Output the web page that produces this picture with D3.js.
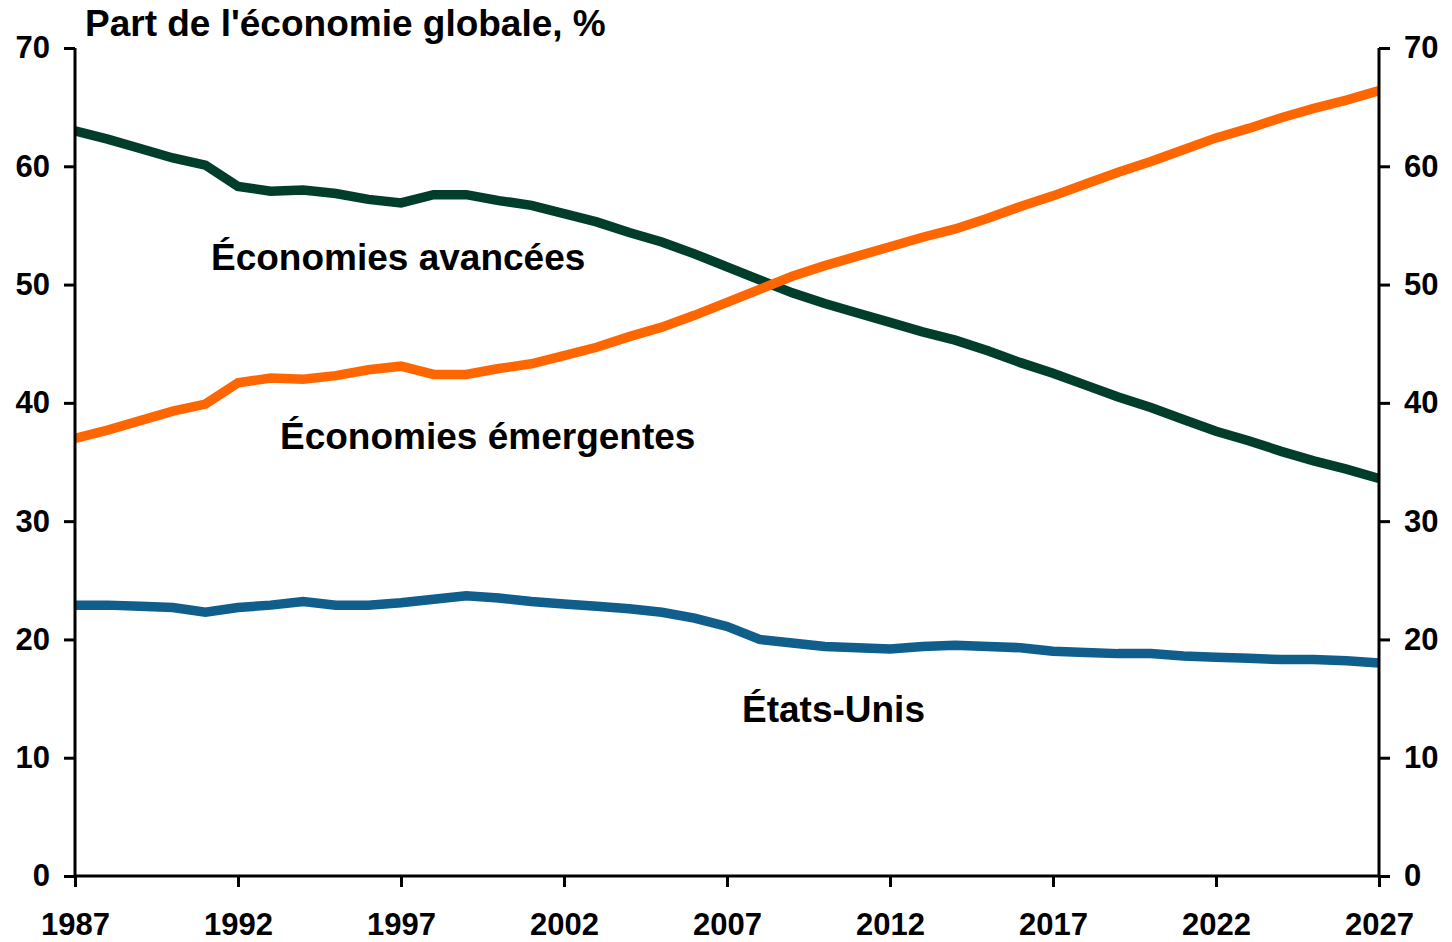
<!DOCTYPE html>
<html>
<head>
<meta charset="utf-8">
<script src="https://cdn.jsdelivr.net/npm/d3@7"></script>
<style>
  html, body { margin: 0; padding: 0; background: #fff; }
  svg { display: block; }
  text { font-family: "Liberation Sans", Arial, sans-serif; font-weight: bold; fill: #000; }
</style>
</head>
<body>
<script>
const years = d3.range(1987, 2028);
const advanced = [63.0,62.3,61.5,60.7,60.1,58.3,57.9,58.0,57.7,57.2,56.9,57.6,57.6,57.1,56.7,56.0,55.3,54.4,53.6,52.6,51.5,50.4,49.3,48.4,47.6,46.8,46.0,45.3,44.4,43.4,42.5,41.5,40.5,39.6,38.6,37.6,36.8,35.9,35.1,34.4,33.6];
const emerging = [37.0,37.7,38.5,39.3,39.9,41.7,42.1,42.0,42.3,42.8,43.1,42.4,42.4,42.9,43.3,44.0,44.7,45.6,46.4,47.4,48.5,49.6,50.7,51.6,52.4,53.2,54.0,54.7,55.6,56.6,57.5,58.5,59.5,60.4,61.4,62.4,63.2,64.1,64.9,65.6,66.4];
const usa = [22.9,22.9,22.8,22.7,22.3,22.7,22.9,23.2,22.9,22.9,23.1,23.4,23.7,23.5,23.2,23.0,22.8,22.6,22.3,21.8,21.1,20.0,19.7,19.4,19.3,19.2,19.4,19.5,19.4,19.3,19.0,18.9,18.8,18.8,18.6,18.5,18.4,18.3,18.3,18.2,18.0];
const xTicks = [1987,1992,1997,2002,2007,2012,2017,2022,2027];
const yTicks = [0,10,20,30,40,50,60,70];
const seriesNames = ["Économies avancées","Économies émergentes","États-Unis"];
const title = "Part de l'économie globale, %";

const W = 1452, H = 942;
const m = {left: 75, right: 73, top: 48, bottom: 66};
const svg = d3.select("body").append("svg").attr("width", W).attr("height", H);

const x = d3.scaleLinear().domain([1987, 2027]).range([m.left, W - m.right]);
const y = d3.scaleLinear().domain([0, 70]).range([H - m.bottom, m.top]);

const series = [
  {name: seriesNames[0], values: advanced, color: "#003d2b", lx: 211, ly: 270},
  {name: seriesNames[1], values: emerging, color: "#ff6600", lx: 280, ly: 449},
  {name: seriesNames[2], values: usa, color: "#105e8c", lx: 742, ly: 722}
];

const line = d3.line().x((d, i) => x(years[i])).y(d => y(d));
series.forEach(s => {
  svg.append("path").datum(s.values).attr("d", line)
    .attr("fill", "none").attr("stroke", s.color).attr("stroke-width", 9.5)
    .attr("stroke-linejoin", "miter").attr("stroke-linecap", "butt");
});

// axes
const axL = d3.axisLeft(y).tickValues(yTicks).tickSize(11).tickPadding(14);
const axR = d3.axisRight(y).tickValues(yTicks).tickSize(11).tickPadding(14);
const axB = d3.axisBottom(x).tickValues(xTicks).tickFormat(d3.format("d")).tickSize(11).tickPadding(26);

function style(g) {
  g.select(".domain").attr("stroke", "#000").attr("stroke-width", 3);
  g.selectAll(".tick line").attr("stroke", "#000").attr("stroke-width", 3);
  g.selectAll(".tick text").attr("font-size", 31).attr("font-family", '"Liberation Sans", Arial, sans-serif').attr("font-weight", "bold").attr("fill", "#000");
}
const gL = svg.append("g").attr("transform", `translate(${m.left},0)`).call(axL).call(style);
const gR = svg.append("g").attr("transform", `translate(${W - m.right},0)`).call(axR).call(style);
const gB = svg.append("g").attr("transform", `translate(0,${H - m.bottom})`).call(axB).call(style);
gL.select(".domain").attr("d", `M0,${y(0)}V${y(70)}`);
gR.select(".domain").attr("d", `M0,${y(0)}V${y(70)}`);
gB.select(".domain").attr("d", `M${x(1987)},0H${x(2027)}`);

svg.append("text").attr("x", 85).attr("y", 36).attr("font-size", 37).text(title);

series.forEach(s => {
  svg.append("text").attr("x", s.lx).attr("y", s.ly).attr("font-size", 37).text(s.name);
});
</script>
</body>
</html>
